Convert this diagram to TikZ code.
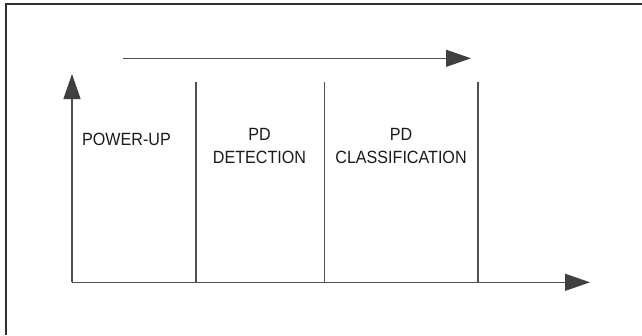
\documentclass[tikz,border=0pt]{standalone}
\usepackage{fontspec}
\newfontfamily\labfont[FakeStretch=0.91]{Liberation Sans}
\usetikzlibrary{arrows.meta}
\definecolor{framec}{HTML}{303030}
\definecolor{linec}{HTML}{505050}
\definecolor{headc}{HTML}{404040}
\definecolor{textc}{HTML}{1A1A1A}
\tikzset{
  frameline/.style={draw=framec, line width=2pt},
  thinline/.style={draw=linec, line width=1.2pt},
  arrowline/.style={draw=linec, line width=1.2pt, -{Triangle[length=25pt,width=17pt,fill=headc,color=headc]}},
  lab/.style={inner sep=0pt, text=textc, font=\labfont\fontsize{17.7}{23}\selectfont, align=center},
}
\begin{document}
\begin{tikzpicture}[x=1pt,y=-1pt]
\useasboundingbox (0,0) rectangle (642,335);
% frame (top and left edges only)
\coordinate (ftr) at (642,4.3);
\coordinate (ftl) at (5.5,4.3);
\coordinate (fbl) at (5.5,335);
\draw[frameline] (ftr) -- (ftl) -- (fbl);
% axes
\coordinate (org) at (72,282.3);
\coordinate (ytip) at (72,74);
\coordinate (xtip) at (590,282.3);
\draw[arrowline] (org) -- (ytip);
\draw[arrowline] (org) -- (xtip);
% time arrow
\coordinate (ttail) at (123,58.3);
\coordinate (thead) at (471,58.3);
\draw[arrowline] (ttail) -- (thead);
% dividers
\coordinate (d1t) at (196,82);  \coordinate (d1b) at (196,282.3);
\coordinate (d2t) at (324.5,82); \coordinate (d2b) at (324.5,282.3);
\coordinate (d3t) at (478,82);  \coordinate (d3b) at (478,282.3);
\draw[thinline] (d1t) -- (d1b);
\draw[thinline] (d2t) -- (d2b);
\draw[thinline] (d3t) -- (d3b);
% labels
\node[lab, anchor=north west] (powerup) at (82,132.5) {POWER-UP};
\node[lab, anchor=north] (detection) at (259.5,128) {PD\\DETECTION};
\node[lab, anchor=north] (classification) at (401,128) {PD\\CLASSIFICATION};
\end{tikzpicture}
\end{document}
